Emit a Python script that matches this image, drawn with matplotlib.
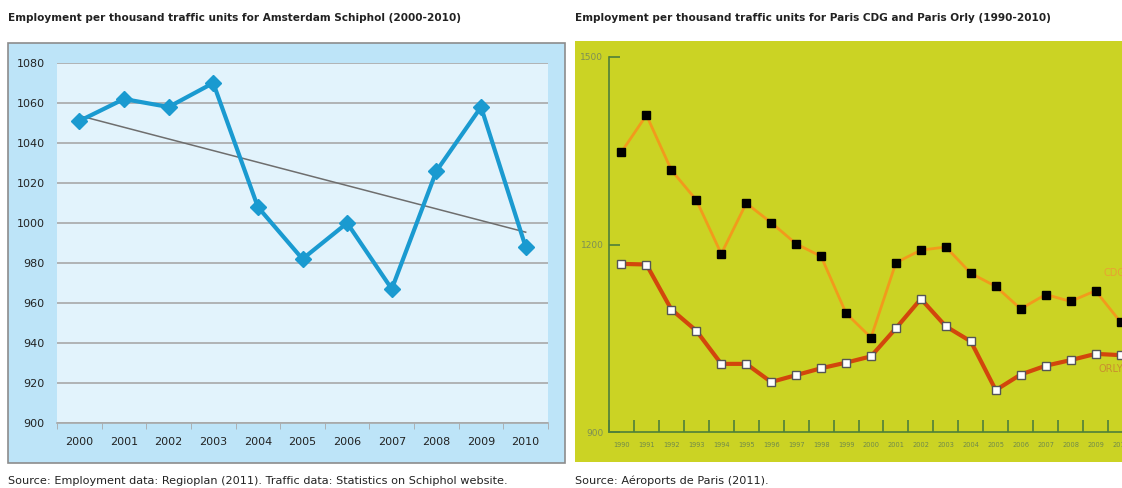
import matplotlib.pyplot as plt
import numpy as np
from matplotlib.patches import Rectangle

# Amsterdam Schiphol
ams_years = [str(y) for y in range(2000, 2011)]
ams_values = [1051, 1062, 1058, 1070, 1008, 982, 1000, 967, 1026, 1058, 988]

# Paris CDG / Orly
par_years = [str(y) for y in range(1990, 2011)]
cdg_values = [1348, 1407, 1319, 1271, 1185, 1266, 1235, 1201, 1181, 1090, 1051,
              1171, 1191, 1196, 1154, 1133, 1097, 1120, 1109, 1126, 1076]
orly_values = [1169, 1168, 1096, 1062, 1009, 1009, 980, 991, 1002, 1011, 1021,
               1066, 1113, 1069, 1045, 967, 992, 1006, 1015, 1025, 1023]

W, H = 1122, 488


def fig_rect(x0, y0, x1, y1):
    # pixel box (top-left origin) -> figure fraction [l, b, w, h]
    return [x0 / W, 1 - y1 / H, (x1 - x0) / W, (y1 - y0) / H]


fig = plt.figure(figsize=(W / 100, H / 100), dpi=100)
fig.patch.set_facecolor('white')

# ---------- left panel ----------
l, b, w, h = fig_rect(8, 43, 565, 463)
fig.patches.append(Rectangle((l, b), w, h, transform=fig.transFigure,
                             facecolor='#bde4f8', edgecolor='#8c8c8c', lw=1.2, zorder=-5))
fig.text(8 / W, 1 - 18 / H, 'Employment per thousand traffic units for Amsterdam Schiphol (2000-2010)',
         fontsize=7.6, fontweight='bold', color='#222222', va='center', ha='left')
fig.text(8 / W, 1 - 481 / H,
         'Source: Employment data: Regioplan (2011). Traffic data: Statistics on Schiphol website.',
         fontsize=8.1, color='#222222', va='center', ha='left')

ax1 = fig.add_axes(fig_rect(57, 63, 548, 423))
ax1.set_facecolor('#e2f3fc')
x1 = np.arange(len(ams_years))
ax1.set_xlim(-0.5, len(ams_years) - 0.5)
ax1.set_ylim(900, 1080)
ax1.set_yticks(np.arange(900, 1081, 20))
ax1.yaxis.grid(True, color='#a8a8a8', lw=1.2)
ax1.set_axisbelow(True)
for s in ['top', 'right', 'left']:
    ax1.spines[s].set_visible(False)
ax1.spines['bottom'].set_color('#a8a8a8')
ax1.spines['bottom'].set_linewidth(1.2)
ax1.tick_params(axis='y', length=0, labelsize=8, colors='#222222', pad=9)
ax1.set_xticks(x1)
ax1.set_xticklabels(ams_years)
ax1.tick_params(axis='x', length=0, labelsize=8, colors='#222222', pad=10)
ax1.set_xticks(np.arange(-0.5, len(ams_years), 1), minor=True)
ax1.tick_params(axis='x', which='minor', length=4, color='#a8a8a8', direction='out')

coef = np.polyfit(x1, ams_values, 1)
ax1.plot([x1[0], x1[-1]], np.polyval(coef, [x1[0], x1[-1]]), color='#6e6e6e', lw=1.1, zorder=3)
ax1.plot(x1, ams_values, color='#1a9ad0', lw=3, marker='D', markersize=8, zorder=4)

# ---------- right panel ----------
l, b, w, h = fig_rect(575, 41, 1130, 462)
fig.patches.append(Rectangle((l, b), w, h, transform=fig.transFigure,
                             facecolor='#cbd324', edgecolor='none', zorder=-5))
fig.text(575 / W, 1 - 18 / H, 'Employment per thousand traffic units for Paris CDG and Paris Orly (1990-2010)',
         fontsize=7.6, fontweight='bold', color='#222222', va='center', ha='left')
fig.text(575 / W, 1 - 481 / H, 'Source: Aéroports de Paris (2011).',
         fontsize=8.1, color='#222222', va='center', ha='left')

ax2 = fig.add_axes(fig_rect(609, 57, 1133, 432))
ax2.patch.set_alpha(0)
x2 = np.arange(len(par_years))
ax2.set_xlim(-0.5, len(par_years) - 0.5)
ax2.set_ylim(900, 1500)
for s in ['top', 'right']:
    ax2.spines[s].set_visible(False)
for s in ['left', 'bottom']:
    ax2.spines[s].set_color('#4f7f3a')
    ax2.spines[s].set_linewidth(1.2)
ax2.set_yticks([900, 1200, 1500])
ax2.tick_params(axis='y', direction='in', length=8, width=1.2, color='#4f7f3a',
                labelsize=6.5, labelcolor='#7d8f55', pad=4)
ax2.set_xticks(x2)
ax2.set_xticklabels(par_years)
ax2.tick_params(axis='x', length=0, labelsize=4.8, labelcolor='#6f8a4a', pad=7)
ax2.set_xticks(np.arange(-0.5, len(par_years), 1), minor=True)
ax2.tick_params(axis='x', which='minor', direction='in', length=9, width=1.2, color='#4f7f3a')

ax2.plot(x2, cdg_values, color='#f29a1c', lw=2, marker='s', markersize=5.5,
         markerfacecolor='black', markeredgecolor='black', zorder=4)
ax2.plot(x2, orly_values, color='#d2460c', lw=3, marker='s', markersize=5.5,
         markerfacecolor='white', markeredgecolor='#555555', markeredgewidth=1, zorder=4)
ax2.text(19.3, 1154, 'CDG', fontsize=7, color='#e8a232', ha='left', va='center')
ax2.text(19.1, 1000, 'ORLY', fontsize=7, color='#c9902e', ha='left', va='center')

fig.savefig('out.png', dpi=100)
